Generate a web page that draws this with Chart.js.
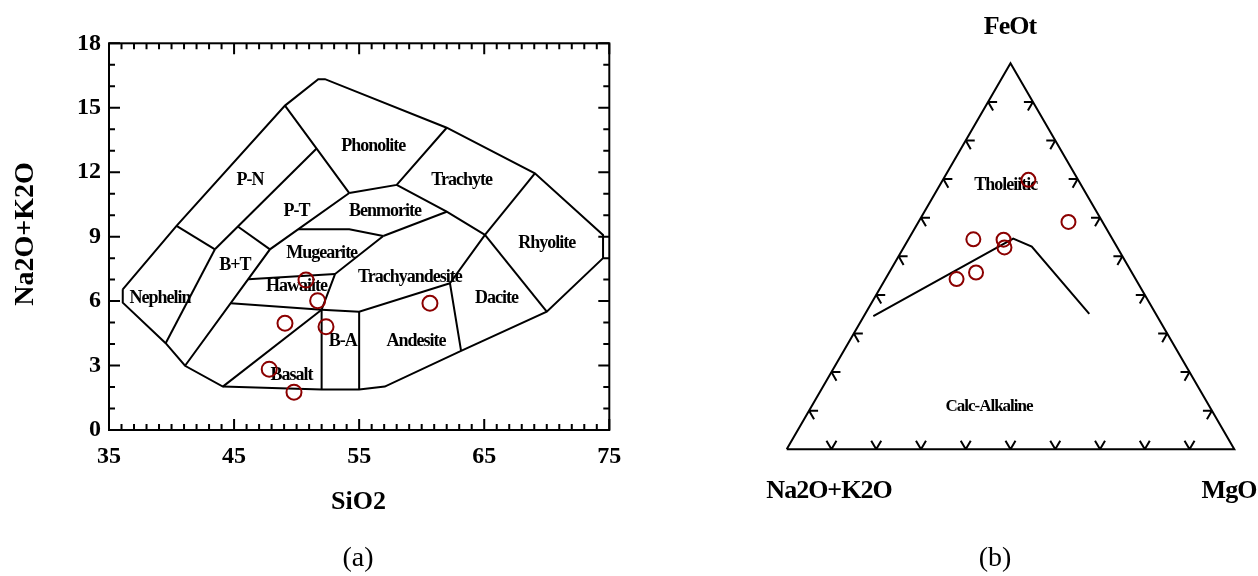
<!DOCTYPE html>
<html><head><meta charset="utf-8">
<script src="https://cdn.jsdelivr.net/npm/chart.js@4/dist/chart.umd.min.js"></script>
<style>
html,body{margin:0;padding:0;background:#fff;}
#wrap{position:relative;width:1258px;height:576px;overflow:hidden;}
#c1{position:absolute;left:0;top:0;}
#c2{position:absolute;left:629px;top:0;}
</style></head><body>
<div id="wrap"><canvas id="c1" width="629" height="576"></canvas><canvas id="c2" width="629" height="576"></canvas></div>
<script>
// ---------- (a) TAS diagram data ----------
const tasTicksX = [35, 45, 55, 65, 75];
const tasTicksY = [0, 3, 6, 9, 12, 15, 18];
const sampleSiO2   = [50.75, 51.68, 49.07, 52.35, 47.81, 49.79, 60.66];
const sampleAlkali = [6.98, 6.02, 4.97, 4.81, 2.83, 1.76, 5.90];

// field boundaries (SiO2, Na2O+K2O)
const outerLine = [[36.1,6.55],[40.4,9.5],[49.07,15.1],[51.73,16.33],[52.27,16.33],[62.0,14.07],[69.05,11.95],[74.5,9.08],[74.5,8.0],[70.0,5.51],[63.15,3.68],[57.05,2.02],[55.0,1.89],[52.0,1.89],[44.1,2.02],[41.08,2.99],[39.53,4.04],[36.1,5.93],[36.1,6.55]];
const nephTop     = [[40.4,9.5],[43.47,8.41]];
const nephRight   = [[43.47,8.41],[39.53,4.04]];
const pnLower     = [[43.47,8.41],[51.6,13.1]];
const pnUpper     = [[49.07,15.1],[51.6,13.1],[54.21,11.03]];
const btTop       = [[45.3,9.47],[47.87,8.41]];
const btRight     = [[41.08,2.99],[47.87,8.41],[54.21,11.03]];
const mugTop      = [[50.12,9.34],[54.21,9.34],[56.93,9.03]];
const phonBottom  = [[54.21,11.03],[58.0,11.41],[62.0,14.07]];
const trachBottom = [[58.0,11.41],[62.0,10.16],[65.06,9.08]];
const rhyTop      = [[65.06,9.08],[69.05,11.95]];
const daciteLeft  = [[65.06,9.08],[62.26,6.83],[63.15,3.68]];
const rhyBottom   = [[65.06,9.08],[70.0,5.51]];
const benBottom   = [[56.93,9.03],[62.0,10.16]];
const mugRight    = [[56.93,9.03],[53.07,7.26],[52.0,5.6]];
const hawTop      = [[46.13,7.02],[53.07,7.26]];
const hawBottom   = [[44.73,5.9],[52.0,5.6]];
const andTop      = [[52.0,5.6],[55.0,5.51],[62.26,6.83]];
const basaltLeft  = [[44.1,2.02],[52.0,5.6]];
const baLeft      = [[52.0,5.6],[52.0,1.89]];
const baRight     = [[55.0,5.51],[55.0,1.89]];
const tasBoundaries = [outerLine, nephTop, nephRight, pnLower, pnUpper, btTop, btRight, mugTop, phonBottom,
  trachBottom, rhyTop, daciteLeft, rhyBottom, benBottom, mugRight, hawTop, hawBottom, andTop, basaltLeft, baLeft, baRight];

const fieldNames = ['P-N','P-T','Phonolite','Trachyte','Benmorite','Mugearite','B+T','Hawaiite','Trachyandesite','Rhyolite','Dacite','Nephelin','B-A','Andesite','Basalt'];
const fieldX     = [46.27, 50.0, 56.13, 63.19, 57.06, 52.0, 45.07, 50.0, 59.06, 69.99, 65.99, 39.08, 53.68, 59.54, 49.6];
const fieldY     = [11.64, 10.16, 13.22, 11.64, 10.16, 8.23, 7.68, 6.70, 7.11, 8.69, 6.13, 6.13, 4.11, 4.11, 2.56];

// ---------- (b) AFM ternary data ----------
const afmA = [0.111, 0.076, 0.311, 0.244, 0.252, 0.400, 0.348];
const afmF = [0.698, 0.589, 0.544, 0.543, 0.523, 0.441, 0.458];
const afmM = [0.191, 0.335, 0.145, 0.213, 0.225, 0.159, 0.194];
const divideA = [0.634, 0.221, 0.190, 0.1485];
const divideF = [0.345, 0.546, 0.525, 0.351];
const divideM = [0.021, 0.233, 0.285, 0.5005];
const cornerA = [1, 0, 0, 1];
const cornerF = [0, 0, 1, 0];
const cornerM = [0, 1, 0, 0];
const afmTicks = [0.1, 0.2, 0.3, 0.4, 0.5, 0.6, 0.7, 0.8, 0.9];
const afmLabelNames = ['Tholeiitic', 'Calc-Alkaline'];
const afmLabelX = [0.4895, 0.452];
const afmLabelY = [0.593, 0.0956];

const SQ3 = Math.sqrt(3) / 2;
const RED = '#8b0000';
const SERIF = '"Liberation Serif", "Times New Roman", serif';
Chart.defaults.font.family = SERIF;

function tern(A, F, M) { return { x: M + F / 2, y: F * SQ3 }; }
function lineSet(data) {
  return { data, showLine: true, borderColor: '#000', borderWidth: 2, pointRadius: 0, pointHoverRadius: 0,
           fill: false, tension: 0, clip: false, order: 1 };
}

// ---------- plugin for (a) ----------
const tasPlugin = {
  id: 'tasDecor',
  beforeDatasetsDraw(chart) {
    const { ctx, scales: { x, y } } = chart;
    ctx.save();
    ctx.fillStyle = '#000';
    ctx.font = 'bold 18px ' + SERIF;
    ctx.letterSpacing = '-1px';
    ctx.textAlign = 'center';
    ctx.textBaseline = 'middle';
    fieldNames.forEach((n, i) => ctx.fillText(n, x.getPixelForValue(fieldX[i]), y.getPixelForValue(fieldY[i])));
    ctx.restore();
  },
  afterDatasetsDraw(chart) {
    const { ctx, chartArea: a, scales: { x, y } } = chart;
    ctx.save();
    ctx.strokeStyle = '#000';
    ctx.lineWidth = 2;
    ctx.strokeRect(a.left, a.top, a.right - a.left, a.bottom - a.top);
    ctx.beginPath();
    for (let v = x.min; v <= x.max; v++) {
      const px = x.getPixelForValue(v);
      const len = tasTicksX.includes(v) ? 11 : 6;
      ctx.moveTo(px, a.bottom); ctx.lineTo(px, a.bottom - len);
      ctx.moveTo(px, a.top); ctx.lineTo(px, a.top + len);
    }
    for (let v = y.min; v <= y.max; v++) {
      const py = y.getPixelForValue(v);
      const len = tasTicksY.includes(v) ? 11 : 6;
      ctx.moveTo(a.left, py); ctx.lineTo(a.left + len, py);
      ctx.moveTo(a.right, py); ctx.lineTo(a.right - len, py);
    }
    ctx.stroke();
    ctx.fillStyle = '#000';
    ctx.font = 'bold 26px ' + SERIF;
    ctx.letterSpacing = '0px';
    ctx.textAlign = 'center';
    ctx.textBaseline = 'alphabetic';
    ctx.fillText('SiO2', 358.5, 509);
    ctx.save();
    ctx.translate(33, 234);
    ctx.rotate(-Math.PI / 2);
    ctx.font = 'bold 28px ' + SERIF;
    ctx.fillText('Na2O+K2O', 0, 0);
    ctx.restore();
    ctx.font = '28px ' + SERIF;
    ctx.fillText('(a)', 358, 566);
    ctx.restore();
  }
};

new Chart(document.getElementById('c1'), {
  type: 'scatter',
  data: {
    datasets: [
      { data: sampleSiO2.map((v, i) => ({ x: v, y: sampleAlkali[i] })), pointRadius: 7.5, pointBorderWidth: 2,
        borderColor: RED, pointBorderColor: RED, backgroundColor: 'rgba(0,0,0,0)', pointBackgroundColor: 'rgba(0,0,0,0)',
        showLine: false, clip: false, order: 0 },
      ...tasBoundaries.map(b => lineSet(b.map(p => ({ x: p[0], y: p[1] }))))
    ]
  },
  options: {
    responsive: false, animation: false, events: [],
    layout: { padding: { left: 0, top: 43.3, right: 19.7, bottom: 0 } },
    plugins: { legend: { display: false }, tooltip: { enabled: false } },
    scales: {
      x: { type: 'linear', min: 35, max: 75,
           afterBuildTicks: s => { s.ticks = tasTicksX.map(v => ({ value: v })); },
           afterFit: s => { s.height = 146; s.paddingLeft = 0; s.paddingRight = 0; },
           grid: { display: false, drawTicks: false }, border: { display: false },
           ticks: { padding: 12, color: '#000', font: { size: 24, weight: 'bold' }, maxRotation: 0, autoSkip: false } },
      y: { type: 'linear', min: 0, max: 18,
           afterBuildTicks: s => { s.ticks = tasTicksY.map(v => ({ value: v })); },
           afterFit: s => { s.width = 109; s.paddingTop = 0; s.paddingBottom = 0; },
           grid: { display: false, drawTicks: false }, border: { display: false },
           ticks: { padding: 8, color: '#000', font: { size: 24, weight: 'bold' }, autoSkip: false } }
    }
  },
  plugins: [tasPlugin]
});

// ---------- plugin for (b) ----------
const afmPlugin = {
  id: 'afmDecor',
  beforeDatasetsDraw(chart) {
    const { ctx, scales: { x, y } } = chart;
    ctx.save();
    ctx.fillStyle = '#000';
    ctx.textAlign = 'center';
    ctx.textBaseline = 'middle';
    ctx.letterSpacing = '-1px';
    afmLabelNames.forEach((n, i) => {
      ctx.font = 'bold ' + (i === 0 ? 18 : 17) + 'px ' + SERIF;
      ctx.fillText(n, x.getPixelForValue(afmLabelX[i]), y.getPixelForValue(afmLabelY[i]));
    });
    ctx.restore();
  },
  afterDatasetsDraw(chart) {
    const { ctx, scales: { x, y } } = chart;
    const P = (pt) => [x.getPixelForValue(pt.x), y.getPixelForValue(pt.y)];
    const L = 10;
    ctx.save();
    ctx.strokeStyle = '#000';
    ctx.lineWidth = 2;
    ctx.beginPath();
    afmTicks.forEach(f => {
      let [px, py] = P(tern(1 - f, 0, f));
      ctx.moveTo(px, py); ctx.lineTo(px - 0.5 * L, py - SQ3 * L);
      ctx.moveTo(px, py); ctx.lineTo(px + 0.5 * L, py - SQ3 * L);
      [px, py] = P(tern(1 - f, f, 0));
      ctx.moveTo(px, py); ctx.lineTo(px + L * 0.9, py);
      ctx.moveTo(px, py); ctx.lineTo(px + 0.5 * L, py + SQ3 * L);
      [px, py] = P(tern(0, f, 1 - f));
      ctx.moveTo(px, py); ctx.lineTo(px - L * 0.9, py);
      ctx.moveTo(px, py); ctx.lineTo(px - 0.5 * L, py + SQ3 * L);
    });
    ctx.stroke();
    ctx.fillStyle = '#000';
    ctx.font = 'bold 26px ' + SERIF;
    ctx.letterSpacing = '-1px';
    ctx.textAlign = 'center';
    ctx.textBaseline = 'alphabetic';
    ctx.fillText('FeOt', 381, 34);
    ctx.fillText('Na2O+K2O', 200, 498);
    ctx.fillText('MgO', 600, 498);
    ctx.font = '28px ' + SERIF;
    ctx.letterSpacing = '0px';
    ctx.fillText('(b)', 366, 566);
    ctx.restore();
  }
};

new Chart(document.getElementById('c2'), {
  type: 'scatter',
  data: {
    datasets: [
      { data: afmA.map((a, i) => tern(a, afmF[i], afmM[i])), pointRadius: 7, pointBorderWidth: 2,
        borderColor: RED, pointBorderColor: RED, backgroundColor: 'rgba(0,0,0,0)', pointBackgroundColor: 'rgba(0,0,0,0)',
        showLine: false, clip: false, order: 0 },
      lineSet(cornerA.map((a, i) => tern(a, cornerF[i], cornerM[i]))),
      lineSet(divideA.map((a, i) => tern(a, divideF[i], divideM[i])))
    ]
  },
  options: {
    responsive: false, animation: false, events: [],
    layout: { padding: { left: 157.7, right: 23.7, top: 63.3, bottom: 126.7 } },
    plugins: { legend: { display: false }, tooltip: { enabled: false } },
    scales: {
      x: { type: 'linear', display: false, min: 0, max: 1 },
      y: { type: 'linear', display: false, min: 0, max: SQ3 }
    }
  },
  plugins: [afmPlugin]
});
</script>
</body></html>
